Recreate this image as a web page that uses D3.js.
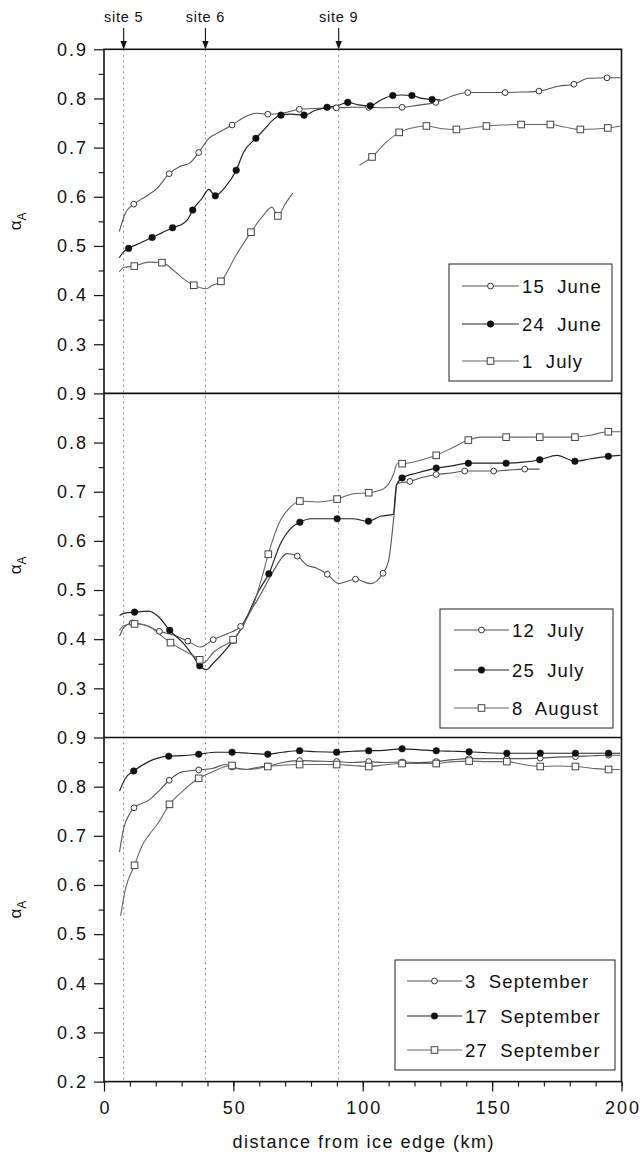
<!DOCTYPE html>
<html><head><meta charset="utf-8">
<script src="https://cdn.jsdelivr.net/npm/d3@7"></script>
<style>
html,body{margin:0;padding:0;background:#fff;}
svg{display:block;}
text{font-family:"Liberation Sans",Arial,Helvetica,sans-serif;fill:#111;}
</style></head>
<body>
<svg id="c" width="641" height="1157"></svg>
<script>
// ---------------- DATA ----------------
const xTicks = [0, 50, 100, 150, 200];
const yTicksTop = [0.9, 0.8, 0.7, 0.6, 0.5, 0.4, 0.3];
const yTicksBottom = [0.9, 0.8, 0.7, 0.6, 0.5, 0.4, 0.3, 0.2];
const siteNames = ["site 5", "site 6", "site 9"];
const siteKm = [7.6, 39.2, 90.7];
const xTitle = "distance from ice edge (km)";

// Panel 1
const june15Line = [[5.9,.529],[8.2,.566],[11.5,.585],[16,.600],[20.5,.617],[25.2,.647],[29.5,.662],[33,.668],[36.6,.690],[40.5,.719],[43.7,.729],[49.5,.746],[54.6,.763],[59.1,.770],[63.3,.768],[69,.770],[75.5,.778],[82.9,.780],[89.8,.781],[96,.782],[102.3,.782],[108,.781],[115.2,.782],[121,.786],[128.2,.792],[135.8,.807],[140.6,.812],[148,.812],[155,.812],[162,.813],[168.1,.815],[175.7,.825],[181.6,.829],[187.3,.841],[194.4,.842],[199.6,.842]];
const june15Marks = [[11.5,.585],[25.2,.647],[36.6,.690],[49.5,.746],[63.3,.768],[75.5,.778],[89.8,.781],[102.3,.782],[115.2,.782],[128.2,.792],[140.6,.812],[155,.812],[168.1,.815],[181.6,.829],[194.4,.842]];
const june24Line = [[5.9,.476],[7.6,.488],[9.5,.495],[14,.506],[18.6,.517],[22.5,.527],[26.5,.537],[30.8,.546],[32.5,.555],[34.3,.573],[37.9,.597],[40.5,.615],[43,.602],[46.9,.620],[51.1,.654],[54,.691],[58.7,.719],[62.3,.739],[65,.755],[68.4,.766],[72,.768],[77.3,.766],[81.7,.776],[86.2,.782],[90,.785],[94.2,.792],[98.4,.787],[102.9,.785],[107,.797],[111.6,.806],[115,.807],[119,.806],[123,.800],[126.8,.798],[130,.797]];
const june24Marks = [[9.5,.495],[18.6,.517],[26.5,.537],[34.3,.573],[43,.602],[51.1,.654],[58.7,.719],[68.4,.766],[77.3,.766],[86.2,.782],[94.2,.792],[102.9,.785],[111.6,.806],[119,.806],[126.8,.798]];
const july1LineA = [[5.9,.447],[7.6,.456],[11.7,.459],[17.3,.467],[22.4,.466],[27.6,.447],[31,.432],[34.7,.420],[39.4,.413],[42,.420],[45.2,.428],[50.7,.478],[56.8,.528],[61.1,.559],[64.9,.579],[67.2,.561],[70,.585],[73,.608]];
const july1LineB = [[98.7,.664],[103.6,.681],[108.7,.709],[114.1,.731],[119,.740],[124.6,.744],[130,.739],[136.2,.737],[142,.740],[147.8,.744],[154,.746],[161.2,.747],[166,.747],[172.5,.747],[178,.742],[184.1,.737],[190,.738],[194.7,.740],[199.6,.744]];
const july1Marks = [[11.7,.459],[22.4,.466],[34.7,.420],[45.2,.428],[56.8,.528],[67.2,.561],[103.6,.681],[114.1,.731],[124.6,.744],[136.2,.737],[147.8,.744],[161.2,.747],[172.5,.747],[184.1,.737],[194.7,.740]];

// Panel 2
const july12Line = [[6,.406],[7.7,.424],[10.9,.433],[15,.430],[21.4,.416],[27,.408],[32.4,.396],[37.3,.384],[42.2,.399],[47.6,.411],[52.8,.426],[56.6,.458],[59.2,.479],[62,.505],[65.6,.540],[70.8,.574],[74.7,.569],[78.5,.550],[82,.545],[86.3,.532],[90.7,.513],[94,.518],[97.2,.522],[103,.513],[107.8,.534],[110,.560],[112,.648],[113.3,.717],[118.2,.721],[123.6,.730],[128.4,.735],[134,.738],[139.4,.742],[145,.742],[150.6,.742],[156,.744],[162.6,.746],[168.3,.746]];
const july12Marks = [[10.9,.433],[21.4,.416],[32.4,.396],[42.2,.399],[52.8,.426],[74.7,.569],[86.3,.532],[97.2,.522],[107.8,.534],[118.2,.721],[128.4,.735],[139.4,.742],[150.6,.742],[162.6,.746]];
const july25Line = [[6,.448],[8,.453],[11.8,.455],[17.3,.457],[21.2,.445],[25.4,.418],[30.8,.391],[34.5,.365],[37,.346],[39.6,.338],[42,.350],[46,.372],[50,.398],[54,.430],[57,.466],[60,.500],[63.7,.533],[68.2,.594],[72.1,.625],[75.7,.638],[80,.645],[85,.645],[90.1,.645],[96,.645],[102.2,.640],[106.9,.650],[111.8,.654],[113,.713],[115.2,.728],[121,.738],[128.4,.748],[134,.752],[140.8,.758],[148,.758],[155.4,.758],[162,.760],[168.4,.765],[175.1,.774],[182,.762],[188,.767],[194.9,.772],[199.6,.774]];
const july25Marks = [[11.8,.455],[25.4,.418],[37,.346],[50,.398],[63.7,.533],[75.7,.638],[90.1,.645],[102.2,.640],[115.2,.728],[128.4,.748],[140.8,.758],[155.4,.758],[168.4,.765],[182,.762],[194.9,.772]];
const aug8Line = [[6,.418],[7.7,.428],[11.8,.431],[16.7,.428],[21,.412],[25.7,.393],[30.8,.377],[37,.358],[38.5,.352],[42.4,.374],[46.3,.387],[49.9,.399],[54,.431],[57.9,.472],[61.8,.540],[63.5,.573],[68.2,.642],[72.1,.669],[75.7,.681],[82.4,.679],[90.1,.685],[96.5,.696],[102.3,.698],[108.1,.706],[112,.737],[113.3,.757],[115.2,.757],[122.3,.764],[128.4,.774],[135.2,.791],[140.8,.805],[145.5,.811],[155.4,.811],[168.4,.811],[182,.811],[188,.815],[194.9,.822],[199.6,.822]];
const aug8Marks = [[11.8,.431],[25.7,.393],[37,.358],[49.9,.399],[63.5,.573],[75.7,.681],[90.1,.685],[102.3,.698],[115.2,.757],[128.4,.774],[140.8,.805],[155.4,.811],[168.4,.811],[182,.811],[194.9,.822]];

// Panel 3
const sep3Line = [[6,.667],[7.6,.715],[9.6,.742],[11.6,.757],[17.2,.772],[21,.790],[25.2,.813],[30.1,.830],[36.6,.834],[41.8,.837],[47,.845],[51,.838],[55,.835],[60,.840],[63.3,.842],[70,.850],[75.6,.853],[82,.852],[89.9,.851],[96,.849],[102.3,.851],[108,.849],[115.2,.850],[122,.849],[128.4,.851],[135,.855],[141.1,.857],[148,.857],[155.7,.857],[162,.857],[168.6,.858],[175,.860],[182.2,.861],[189,.863],[195,.864],[199.5,.864]];
const sep3Marks = [[11.6,.757],[25.2,.813],[36.6,.834],[49.5,.840],[63.3,.842],[75.6,.853],[89.9,.851],[102.3,.851],[115.2,.850],[128.4,.851],[141.1,.857],[155.7,.857],[168.6,.858],[182.2,.861],[195,.864]];
const sep17Line = [[6,.791],[8.3,.817],[11.5,.832],[17.3,.851],[25,.862],[30.2,.863],[36.6,.866],[43.1,.870],[49.5,.870],[56,.868],[63.3,.866],[69,.870],[75.6,.873],[82,.871],[89.9,.870],[96,.872],[102.3,.873],[108,.874],[115.2,.877],[122,.875],[128.4,.873],[135,.872],[141.1,.871],[148,.869],[155.7,.868],[168.6,.868],[182.2,.868],[195,.868],[199.5,.868]];
const sep17Marks = [[11.5,.832],[25,.862],[36.6,.866],[49.5,.870],[63.3,.866],[75.6,.873],[89.9,.870],[102.3,.873],[115.2,.877],[128.4,.873],[141.1,.871],[155.7,.868],[168.6,.868],[182.2,.868],[195,.868]];
const sep27Line = [[6.4,.537],[8.3,.592],[11.8,.640],[14.7,.680],[17.3,.701],[21.2,.728],[25.3,.764],[30.2,.790],[36.6,.817],[41.8,.830],[47,.841],[49.5,.843],[52,.836],[56,.835],[63.3,.841],[70,.844],[75.6,.845],[82,.845],[89.9,.845],[96,.843],[102.3,.841],[108,.844],[115.2,.847],[122,.847],[128.4,.847],[135,.851],[141.1,.852],[148,.851],[155.7,.851],[162,.845],[168.6,.841],[175,.842],[182.2,.841],[189,.837],[195,.835],[199.5,.835]];
const sep27Marks = [[11.8,.640],[25.3,.764],[36.6,.817],[49.5,.843],[63.3,.841],[75.6,.845],[89.9,.845],[102.3,.841],[115.2,.847],[128.4,.847],[141.1,.852],[155.7,.851],[168.6,.841],[182.2,.841],[195,.835]];

const legend1 = ["15  June", "24  June", "1  July"];
const legend2 = ["12  July", "25  July", "8  August"];
const legend3 = ["3  September", "17  September", "27  September"];
const markerTypes = ["open", "filled", "square"];

// ---------------- LAYOUT ----------------
const svg = d3.select("#c");
const L = 104, R = 621.5, T = 49.3, B = 1081.6;
const PH = (B - T) / 3;
const x = d3.scaleLinear().domain([0, 200]).range([L, R]);
const panels = [
  {top: T, lines: [[june15Line],[june24Line],[july1LineA, july1LineB]], marks: [june15Marks, june24Marks, july1Marks], ticks: yTicksTop, legend: legend1,
   box: [449, 264, 163, 117], rows: [286, 324, 361], lx: [462, 519], tx: 522},
  {top: T + PH, lines: [[july12Line],[july25Line],[aug8Line]], marks: [july12Marks, july25Marks, aug8Marks], ticks: yTicksTop, legend: legend2,
   box: [440, 609, 173, 119], rows: [630, 670, 708], lx: [454, 509], tx: 512},
  {top: T + 2*PH, lines: [[sep3Line],[sep17Line],[sep27Line]], marks: [sep3Marks, sep17Marks, sep27Marks], ticks: yTicksBottom, legend: legend3,
   box: [395, 960, 220, 110], rows: [981, 1016, 1050], lx: [407, 462], tx: 465}
];

const lineColor = ["#555", "#222", "#666"];
const lineWidth = [1.1, 1.2, 1.1];

function drawMarker(g, type, cx, cy) {
  if (type === "open") {
    g.append("circle").attr("cx", cx).attr("cy", cy).attr("r", 2.9)
      .attr("fill", "#fff").attr("stroke", "#333").attr("stroke-width", 1);
  } else if (type === "filled") {
    g.append("circle").attr("cx", cx).attr("cy", cy).attr("r", 3.3)
      .attr("fill", "#111").attr("stroke", "#111").attr("stroke-width", 0.5);
  } else {
    g.append("rect").attr("x", cx - 3.3).attr("y", cy - 3.3).attr("width", 6.6).attr("height", 6.6)
      .attr("fill", "#fff").attr("stroke", "#444").attr("stroke-width", 1);
  }
}

// site dotted lines and labels
siteKm.forEach((km, i) => {
  svg.append("line").attr("x1", x(km)).attr("x2", x(km)).attr("y1", T).attr("y2", B)
    .attr("stroke", "#888").attr("stroke-width", 1).attr("stroke-dasharray", "2,3.5");
  svg.append("text").attr("x", x(km)).attr("y", 22).attr("text-anchor", "middle")
    .attr("font-size", 14.5).attr("letter-spacing", 0.8).text(siteNames[i]);
  svg.append("line").attr("x1", x(km)).attr("x2", x(km)).attr("y1", 28).attr("y2", 44)
    .attr("stroke", "#111").attr("stroke-width", 1.1);
  svg.append("path").attr("d", `M${x(km)-3.2},${41} L${x(km)+3.2},${41} L${x(km)},${49.5} Z`).attr("fill", "#111");
});

panels.forEach((p, pi) => {
  const y = d3.scaleLinear().domain([0.2, 0.9]).range([p.top + PH, p.top]);
  const g = svg.append("g");
  const lineGen = d3.line().x(d => x(d[0])).y(d => y(d[1])).curve(d3.curveMonotoneX);

  // series lines
  p.lines.forEach((segs, si) => {
    segs.forEach(seg => {
      g.append("path").datum(seg).attr("d", lineGen).attr("fill", "none")
        .attr("stroke", lineColor[si]).attr("stroke-width", lineWidth[si]).attr("stroke-linejoin", "round");
    });
  });
  // markers
  p.marks.forEach((ms, si) => {
    ms.forEach(d => drawMarker(g, markerTypes[si], x(d[0]), y(d[1])));
  });

  // minor y ticks
  const minor = d3.range(0.25, 0.9, 0.1).map(v => +v.toFixed(2));
  svg.append("g").attr("transform", `translate(${L},0)`)
    .call(d3.axisLeft(y).tickValues(minor).tickSize(5.5).tickSizeOuter(0).tickFormat(""))
    .call(s => s.select(".domain").remove())
    .call(s => s.selectAll("line").attr("stroke", "#111").attr("stroke-width", 1.1));
  // major y ticks
  svg.append("g").attr("transform", `translate(${L},0)`)
    .call(d3.axisLeft(y).tickValues(p.ticks).tickSize(10).tickSizeOuter(0).tickPadding(8).tickFormat(d3.format(".1f")))
    .call(s => s.select(".domain").remove())
    .call(s => s.selectAll("line").attr("stroke", "#111").attr("stroke-width", 1.2))
    .call(s => s.selectAll("text").attr("font-size", 18).attr("letter-spacing", 2)
      .attr("dx", 2).attr("font-family", "'Liberation Sans',Arial,sans-serif").attr("fill", "#111"));

  // y label
  const ly = svg.append("text").attr("transform", `translate(21,${p.top + PH/2}) rotate(-90)`)
    .attr("text-anchor", "middle").attr("font-size", 17);
  ly.append("tspan").text("α");
  ly.append("tspan").attr("font-size", 12).attr("dy", 5).text("A");

  // legend
  const [bx, by, bw, bh] = p.box;
  svg.append("rect").attr("x", bx).attr("y", by).attr("width", bw).attr("height", bh)
    .attr("fill", "#fff").attr("stroke", "#222").attr("stroke-width", 1);
  p.legend.forEach((lab, i) => {
    const ry = p.rows[i];
    svg.append("line").attr("x1", p.lx[0]).attr("x2", p.lx[1]).attr("y1", ry).attr("y2", ry)
      .attr("stroke", lineColor[i]).attr("stroke-width", lineWidth[i]);
    drawMarker(svg, markerTypes[i], (p.lx[0] + p.lx[1]) / 2, ry);
    svg.append("text").attr("x", p.tx).attr("y", ry).attr("dy", "0.36em")
      .attr("font-size", 18.5).attr("letter-spacing", 1.1)
      .style("white-space", "pre").text(lab);
  });
});

// frame
svg.append("rect").attr("x", L).attr("y", T).attr("width", R - L).attr("height", B - T)
  .attr("fill", "none").attr("stroke", "#111").attr("stroke-width", 1.6);
[1, 2].forEach(k => {
  svg.append("line").attr("x1", L).attr("x2", R).attr("y1", T + k*PH).attr("y2", T + k*PH)
    .attr("stroke", "#111").attr("stroke-width", 1.6);
});

// x axis
svg.append("g").attr("transform", `translate(0,${B})`)
  .call(d3.axisBottom(x).tickValues(d3.range(0, 201, 10)).tickSize(5).tickSizeOuter(0).tickFormat(""))
  .call(s => s.select(".domain").remove())
  .call(s => s.selectAll("line").attr("stroke", "#111").attr("stroke-width", 1.1));
svg.append("g").attr("transform", `translate(0,${B})`)
  .call(d3.axisBottom(x).tickValues(xTicks).tickSize(10).tickSizeOuter(0).tickPadding(10))
  .call(s => s.select(".domain").remove())
  .call(s => s.selectAll("line").attr("stroke", "#111").attr("stroke-width", 1.2))
  .call(s => s.selectAll("text").attr("font-size", 18).attr("letter-spacing", 2).attr("dx", 1)
    .attr("font-family", "'Liberation Sans',Arial,sans-serif").attr("fill", "#111"));

svg.append("text").attr("x", (L + R) / 2 + 1).attr("y", 1148).attr("text-anchor", "middle")
  .attr("font-size", 18).attr("letter-spacing", 1.5).text(xTitle);
</script>
</body></html>
